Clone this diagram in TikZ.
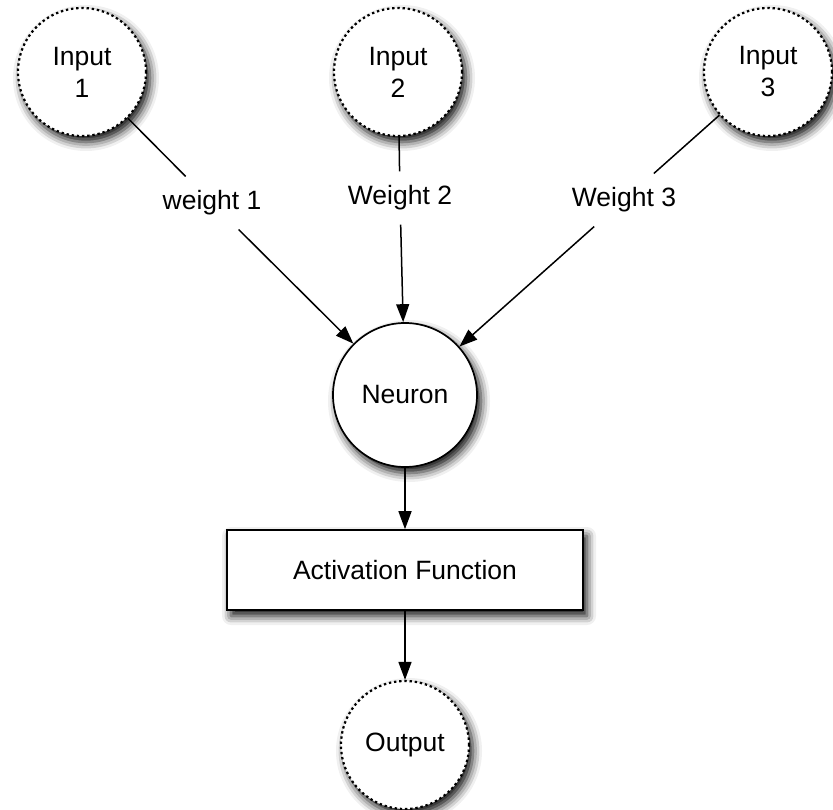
\documentclass[tikz,border=0pt]{standalone}
\usepackage{fontspec}
\setmainfont{Liberation Sans}
\usetikzlibrary{arrows.meta,shadows.blur}

\tikzset{
  softshadow/.style={blur shadow={shadow xshift=4pt, shadow yshift=-6pt,
      shadow blur radius=9pt, shadow opacity=95}},
  port/.style={circle, draw, line width=2.2pt, dash pattern=on 2.4pt off 2.8pt,
      fill=white, minimum size=128pt, inner sep=0pt, align=center, softshadow},
  neuronbox/.style={circle, draw, line width=1.7pt, fill=white,
      minimum size=144pt, inner sep=0pt, softshadow},
  funcbox/.style={rectangle, draw, line width=1.6pt, fill=white,
      minimum width=356pt, minimum height=80pt, inner sep=0pt, softshadow},
  wlabel/.style={fill=white, inner xsep=4pt, inner ysep=14pt},
  link/.style={line width=1.5pt},
  arrowlink/.style={line width=1.5pt, -{Triangle[length=18pt,width=13pt]}}
}

\begin{document}
\begin{tikzpicture}[x=1pt, y=-1pt, font=\fontsize{26.5}{32}\selectfont]
  \useasboundingbox (0,0) rectangle (833,810);

  % inputs
  \node[port] (in1) at (82,72)  {Input\\1};
  \node[port] (in2) at (398,72) {Input\\2};
  \node[port] (in3) at (768,72) {Input\\3};

  % neuron, activation and output
  \node[neuronbox] (neuron) at (405,395) {Neuron};
  \node[funcbox] (act) at (405,570) {Activation Function};
  \node[port] (out) at (405,745) {Output};

  % weight labels sitting on the connectors
  \node[wlabel] (w1) at (212,203) {weight 1};
  \node[wlabel] (w2) at (400,198) {Weight 2};
  \node[wlabel] (w3) at (624,200) {Weight 3};

  % weighted connections
  \draw[link] (in1) -- (w1);
  \draw[arrowlink] (w1) -- (neuron);
  \draw[link] (in2) -- (w2);
  \draw[arrowlink] (w2) -- (neuron);
  \draw[link] (in3) -- (w3);
  \draw[arrowlink] (w3) -- (neuron);

  % forward path
  \draw[arrowlink] (neuron) -- (act);
  \draw[arrowlink] (act) -- (out);
\end{tikzpicture}
\end{document}
